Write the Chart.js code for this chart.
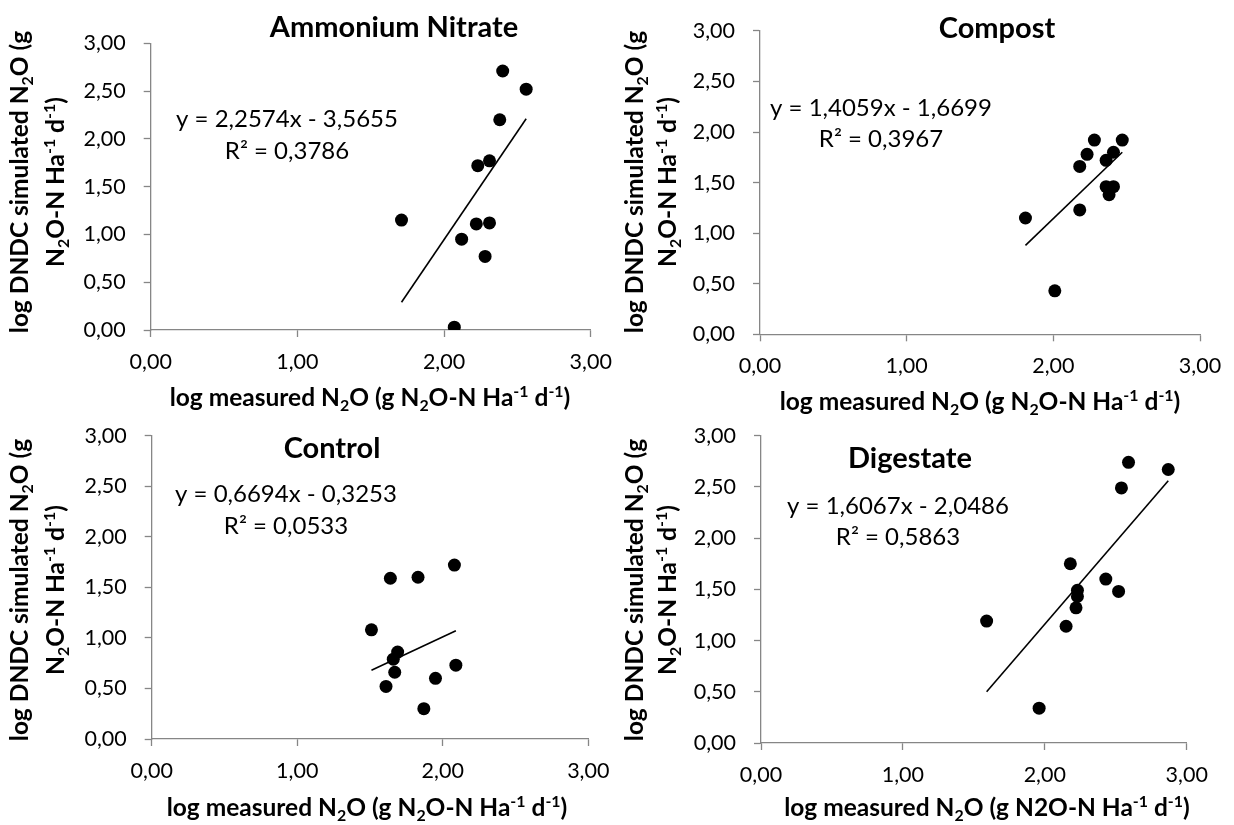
<!DOCTYPE html>
<html><head><meta charset="utf-8">
<script src="https://cdn.jsdelivr.net/npm/chart.js@4.4.1/dist/chart.umd.min.js"></script>
<style>
html,body{margin:0;padding:0;background:#fff;width:1234px;height:825px;overflow:hidden}
canvas{position:absolute;left:0;top:0}
</style></head><body>
<canvas id="c0" width="1234" height="825"></canvas>
<canvas id="c1" width="1234" height="825"></canvas>
<canvas id="c2" width="1234" height="825"></canvas>
<canvas id="c3" width="1234" height="825"></canvas>
<script>
// ---------- DATA ----------
const panelTitles = ['Ammonium Nitrate', 'Compost', 'Control', 'Digestate'];
const xTickValues = [0, 1, 2, 3];
const yTickValues = [0, 0.5, 1, 1.5, 2, 2.5, 3];

const anX = [2.40, 2.56, 2.38, 2.31, 2.23, 1.71, 2.22, 2.31, 2.12, 2.28, 2.07];
const anY = [2.71, 2.52, 2.20, 1.77, 1.72, 1.15, 1.11, 1.12, 0.95, 0.77, 0.03];
const anTrendX = [1.71, 2.56];
const anTrendY = [0.29, 2.21];

const compX = [2.28, 2.47, 2.23, 2.41, 2.18, 2.36, 2.36, 2.41, 2.38, 2.18, 1.81, 2.01];
const compY = [1.92, 1.92, 1.78, 1.80, 1.66, 1.72, 1.46, 1.46, 1.38, 1.23, 1.15, 0.43];
const compTrendX = [1.81, 2.47];
const compTrendY = [0.88, 1.80];

const ctrlX = [2.08, 1.64, 1.83, 1.51, 1.69, 1.66, 1.67, 1.61, 2.09, 1.95, 1.87];
const ctrlY = [1.72, 1.59, 1.60, 1.08, 0.86, 0.79, 0.66, 0.52, 0.73, 0.60, 0.30];
const ctrlTrendX = [1.51, 2.09];
const ctrlTrendY = [0.68, 1.07];

const digX = [2.59, 2.87, 2.54, 2.18, 2.43, 2.52, 2.23, 2.23, 2.22, 2.15, 1.59, 1.96];
const digY = [2.74, 2.67, 2.49, 1.75, 1.60, 1.48, 1.49, 1.43, 1.32, 1.14, 1.19, 0.34];
const digTrendX = [1.59, 2.87];
const digTrendY = [0.50, 2.56];

const equations = ['y = 2,2574x - 3,5655', 'y = 1,4059x - 1,6699', 'y = 0,6694x - 0,3253', 'y = 1,6067x - 2,0486'];
const rSquared = ['R\u00B2 = 0,3786', 'R\u00B2 = 0,3967', 'R\u00B2 = 0,0533', 'R\u00B2 = 0,5863'];

const yTitle1 = 'log DNDC simulated N_{2}O (g';
const yTitle2 = 'N_{2}O-N Ha^{-1} d^{-1})';
const xTitles = [
  'log measured N_{2}O (g N_{2}O-N Ha^{-1} d^{-1})',
  'log measured N_{2}O (g N_{2}O-N Ha^{-1} d^{-1})',
  'log measured N_{2}O (g N_{2}O-N Ha^{-1} d^{-1})',
  'log measured N_{2}O (g N2O-N Ha^{-1} d^{-1})'
];

const seriesX = [anX, compX, ctrlX, digX];
const seriesY = [anY, compY, ctrlY, digY];
const trendX = [anTrendX, compTrendX, ctrlTrendX, digTrendX];
const trendY = [anTrendY, compTrendY, ctrlTrendY, digTrendY];

// ---------- LAYOUT ----------
const FAM = "Lato, 'Open Sans', sans-serif";
const layouts = [
  {area:{l:150.7,r:590.7,t:43.3,b:330}, title:[394,27], eq:[287,118], r2:[287,150], xt:[370,397], yt:[19,55,182]},
  {area:{l:760,r:1200,t:14,b:334.3}, title:[997,28], eq:[881,107], r2:[881,138], xt:[980,401], yt:[634,667,182]},
  {area:{l:151.7,r:588.3,t:435.7,b:739}, title:[332,448], eq:[286,493], r2:[286,525], xt:[367,807], yt:[19,55,590]},
  {area:{l:761,r:1186.7,t:435.7,b:743}, title:[910,458], eq:[898,505], r2:[898,536], xt:[987,807], yt:[634,667,590]}
];
const YW = 80, XH = 45, W = 1234, H = 825;
const AXIS = '#868686';

function parseRich(s) {
  const out = []; const re = /(_\{[^}]*\}|\^\{[^}]*\})/g;
  let last = 0, m;
  while ((m = re.exec(s))) {
    if (m.index > last) out.push([s.slice(last, m.index), 'n']);
    out.push([m[0].slice(2, -1), m[0][0] === '_' ? 'sub' : 'sup']);
    last = re.lastIndex;
  }
  if (last < s.length) out.push([s.slice(last), 'n']);
  return out;
}
function drawRich(ctx, str, cx, cy, size, bold, rotate) {
  const segs = parseRich(str);
  ctx.save();
  ctx.translate(cx, cy);
  if (rotate) ctx.rotate(-Math.PI / 2);
  let total = 0;
  const parts = segs.map(([t, m]) => {
    const s = m === 'n' ? size : size * 0.65;
    ctx.font = (bold ? 'bold ' : '') + s + 'px ' + FAM;
    const w = ctx.measureText(t).width; total += w;
    return {t, m, s, w};
  });
  let x = -total / 2;
  ctx.textAlign = 'left'; ctx.textBaseline = 'alphabetic'; ctx.fillStyle = '#000';
  const base = size * 0.36;
  for (const p of parts) {
    ctx.font = (bold ? 'bold ' : '') + p.s + 'px ' + FAM;
    const dy = p.m === 'sub' ? size * 0.2 : p.m === 'sup' ? -size * 0.36 : 0;
    ctx.fillText(p.t, x, base + dy);
    x += p.w;
  }
  ctx.restore();
}
const fmt = v => Number(v).toFixed(2).replace('.', ',');

for (let i = 0; i < 4; i++) {
  const L = layouts[i], a = L.area;
  const textPlugin = {
    id: 'txt' + i,
    afterDraw(chart) {
      const ctx = chart.ctx;
      drawRich(ctx, panelTitles[i], L.title[0], L.title[1], 29, true, false);
      drawRich(ctx, equations[i], L.eq[0], L.eq[1], 24, false, false);
      drawRich(ctx, rSquared[i], L.r2[0], L.r2[1], 24, false, false);
      drawRich(ctx, xTitles[i], L.xt[0], L.xt[1], 24.5, true, false);
      drawRich(ctx, yTitle1, L.yt[0], L.yt[2], 24.5, true, true);
      drawRich(ctx, yTitle2, L.yt[1], L.yt[2], 24.5, true, true);
    }
  };
  new Chart(document.getElementById('c' + i), {
    type: 'scatter',
    data: {
      datasets: [
        {data: seriesX[i].map((x, k) => ({x, y: seriesY[i][k]})), pointRadius: 6.5, pointHoverRadius: 6.5,
         backgroundColor: '#000', borderColor: '#000', borderWidth: 0, showLine: false},
        {data: trendX[i].map((x, k) => ({x, y: trendY[i][k]})), showLine: true, pointRadius: 0,
         borderColor: '#000', borderWidth: 1.6, fill: false}
      ]
    },
    options: {
      responsive: false, animation: false, devicePixelRatio: 1,
      layout: {padding: {left: a.l - YW, top: a.t, right: W - a.r, bottom: H - a.b - XH}},
      plugins: {legend: {display: false}, tooltip: {enabled: false}, title: {display: false}},
      scales: {
        x: {type: 'linear', min: 0, max: 3,
            afterBuildTicks: s => { s.ticks = xTickValues.map(v => ({value: v})); },
            ticks: {callback: fmt, color: '#000', font: {family: FAM, size: 21.5}, padding: 12, maxRotation: 0, autoSkip: false},
            grid: {drawOnChartArea: false, drawTicks: true, tickLength: 7, tickColor: AXIS, color: AXIS, tickWidth: 1.3},
            border: {display: true, color: AXIS, width: 1.3},
            afterFit: s => { s.height = XH; }},
        y: {type: 'linear', min: 0, max: 3,
            afterBuildTicks: s => { s.ticks = yTickValues.map(v => ({value: v})); },
            ticks: {callback: fmt, color: '#000', font: {family: FAM, size: 21.5}, padding: 18, autoSkip: false},
            grid: {drawOnChartArea: false, drawTicks: true, tickLength: 7, tickColor: AXIS, color: AXIS, tickWidth: 1.3},
            border: {display: true, color: AXIS, width: 1.3},
            afterFit: s => { s.width = YW; }}
      }
    },
    plugins: [textPlugin]
  });
}
</script>
</body></html>
